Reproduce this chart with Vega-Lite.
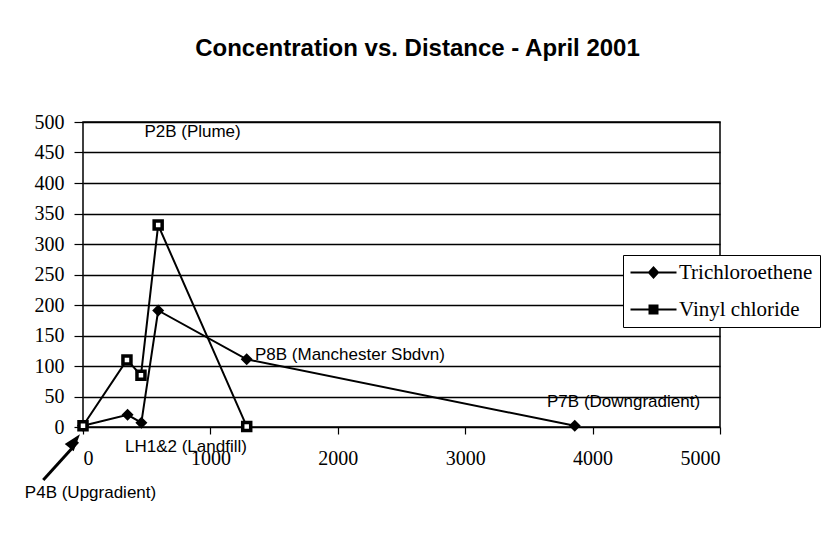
{
  "$schema": "https://vega.github.io/schema/vega-lite/v6.json",
  "width": 637,
  "height": 305,
  "autosize": {"type": "none"},
  "padding": {"left": 83, "top": 122, "right": 116, "bottom": 116},
  "background": "white",
  "title": {
    "text": "Concentration vs. Distance - April 2001",
    "font": "Liberation Sans",
    "fontSize": 24,
    "fontWeight": "bold",
    "color": "black",
    "anchor": "middle",
    "dx": 16,
    "offset": 51
  },
  "config": {
    "view": {"stroke": "black", "strokeWidth": 1.5}
  },
  "datasets": {
    "series": [
      {"series": "Trichloroethene", "distance": 0, "conc": 2},
      {"series": "Trichloroethene", "distance": 350, "conc": 20},
      {"series": "Trichloroethene", "distance": 458, "conc": 7},
      {"series": "Trichloroethene", "distance": 590, "conc": 191},
      {"series": "Trichloroethene", "distance": 1285, "conc": 111},
      {"series": "Trichloroethene", "distance": 3860, "conc": 2},
      {"series": "Vinyl chloride", "distance": 0, "conc": 2},
      {"series": "Vinyl chloride", "distance": 345, "conc": 110},
      {"series": "Vinyl chloride", "distance": 455, "conc": 85},
      {"series": "Vinyl chloride", "distance": 590, "conc": 331},
      {"series": "Vinyl chloride", "distance": 1285, "conc": 1}
    ],
    "labels": [
      {"label": "P2B (Plume)", "distance": 860, "conc": 483},
      {"label": "LH1&2 (Landfill)", "distance": 808, "conc": -32},
      {"label": "P7B (Downgradient)", "distance": 4243, "conc": 41},
      {"label": "P4B (Upgradient)", "distance": 59, "conc": -108}
    ],
    "leftlabels": [
      {"label": "P8B (Manchester Sbdvn)", "distance": 1350, "conc": 118}
    ],
    "arrow": [
      {"distance": -312, "conc": -87, "distance2": -40, "conc2": -24}
    ],
    "arrowhead": [
      {"distance": -24, "conc": -12}
    ]
  },
  "encoding": {
    "x": {
      "field": "distance", "type": "quantitative",
      "scale": {"domain": [0, 5000], "nice": false},
      "axis": {
        "values": [0, 1000, 2000, 3000, 4000, 5000],
        "format": "d",
        "grid": false, "title": null, "domain": false,
        "tickSize": 7, "tickColor": "black", "tickWidth": 1.2,
        "labelPadding": 14, "labelFont": "Liberation Serif", "labelFontSize": 20, "labelColor": "black", "labelOverlap": false
      }
    },
    "y": {
      "field": "conc", "type": "quantitative",
      "scale": {"domain": [0, 500], "nice": false},
      "axis": {
        "values": [0, 50, 100, 150, 200, 250, 300, 350, 400, 450, 500],
        "format": "d",
        "grid": true, "gridColor": "black", "gridWidth": 1.3, "gridOpacity": 1,
        "title": null, "domain": false,
        "tickSize": 9, "tickColor": "black", "tickWidth": 1.2,
        "labelPadding": 10, "labelFont": "Liberation Serif", "labelFontSize": 20, "labelColor": "black", "labelOverlap": false
      }
    }
  },
  "layer": [
    {
      "data": {"name": "series"},
      "mark": {"type": "line", "color": "black", "strokeWidth": 2},
      "encoding": {
        "detail": {"field": "series"}
      }
    },
    {
      "data": {"name": "series"},
      "transform": [{"filter": "datum.series === 'Trichloroethene'"}],
      "mark": {"type": "point", "shape": "diamond", "filled": true, "color": "black", "size": 144, "opacity": 1},
      "encoding": {}
    },
    {
      "data": {"name": "series"},
      "transform": [{"filter": "datum.series === 'Vinyl chloride'"}],
      "mark": {"type": "point", "shape": "square", "filled": true, "fill": "white", "stroke": "black", "strokeWidth": 3.5, "size": 64, "opacity": 1},
      "encoding": {}
    },
    {
      "data": {"name": "series"},
      "mark": {"type": "point", "filled": true, "color": "black", "opacity": 0, "size": 400},
      "encoding": {
        "shape": {
          "field": "series", "type": "nominal",
          "scale": {
            "domain": ["Trichloroethene", "Vinyl chloride"],
            "range": [
              "M-2.3,-0.09H-0.5L0,-0.65L0.5,-0.09H2.3V0.09H0.5L0,0.65L-0.5,0.09H-2.3Z",
              "M-2.3,-0.09H-0.5V-0.5H0.5V-0.09H2.3V0.09H0.5V0.5H-0.5V0.09H-2.3Z"
            ]
          },
          "legend": {
            "title": null,
            "orient": "none",
            "legendX": 540,
            "legendY": 133,
            "padding": 7,
            "rowPadding": 15,
            "strokeColor": "black",
            "fillColor": "white",
            "symbolOpacity": 1,
            "symbolSize": 400,
            "symbolFillColor": "black",
            "symbolStrokeColor": "black",
            "symbolStrokeWidth": 0.5,
            "symbolOffset": 13,
            "labelOffset": 15,
            "labelFont": "Liberation Serif",
            "labelFontSize": 21,
            "labelColor": "black",
            "labelLimit": 300,
            "encode": {
              "legend": {
                "update": {
                  "strokeWidth": {"value": 1.5}
                }
              },
              "symbols": {
                "update": {
                  "fill": {"value": "black"},
                  "stroke": {"value": "black"},
                  "strokeWidth": {"value": 0.5},
                  "opacity": {"value": 1}
                }
              }
            }
          }
        }
      }
    },
    {
      "data": {"name": "labels"},
      "mark": {"type": "text", "font": "Liberation Sans", "fontSize": 17, "color": "black", "align": "center", "baseline": "middle"},
      "encoding": {
        "text": {"field": "label"}
      }
    },
    {
      "data": {"name": "leftlabels"},
      "mark": {"type": "text", "font": "Liberation Sans", "fontSize": 17, "color": "black", "align": "left", "baseline": "middle"},
      "encoding": {
        "text": {"field": "label"}
      }
    },
    {
      "data": {"name": "arrow"},
      "mark": {"type": "rule", "color": "black", "strokeWidth": 3},
      "encoding": {
        "x2": {"field": "distance2"},
        "y2": {"field": "conc2"}
      }
    },
    {
      "data": {"name": "arrowhead"},
      "mark": {"type": "point", "shape": "M0,0L-0.5,1.5L0.5,1.5Z", "filled": true, "color": "black", "opacity": 1, "size": 520, "angle": 39},
      "encoding": {}
    }
  ],
  "resolve": {"scale": {"shape": "independent"}}
}
